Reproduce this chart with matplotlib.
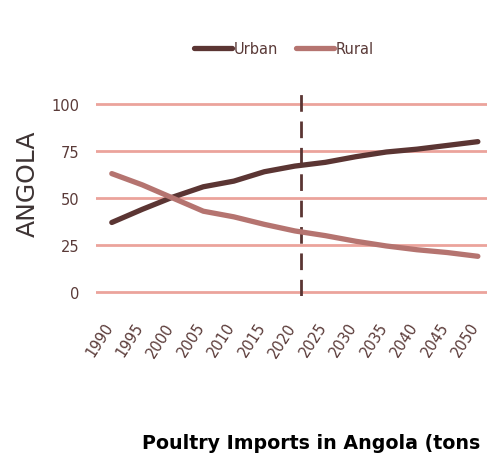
import matplotlib
matplotlib.use("Agg")
import matplotlib.pyplot as plt
from matplotlib.transforms import ScaledTranslation

years = [1990, 1995, 2000, 2005, 2010, 2015, 2020, 2025, 2030, 2035, 2040, 2045, 2050]
urban = [37, 44, 50.5, 56, 59, 64, 67, 69, 72, 74.5, 76, 78, 80]
rural = [63, 57, 50, 43, 40, 36, 32.5, 30, 27, 24.5, 22.5, 21, 19]
y_ticks = [0, 25, 50, 75, 100]
marker_year = 2021

text_color = "#5a3a38"
grid_color = "#eba39c"

fig = plt.figure(figsize=(4.87, 4.64), dpi=100)
ax = fig.add_axes([0.197, 0.36, 0.803, 0.45])

for v in y_ticks:
    ax.axhline(v, color=grid_color, lw=2.0, zorder=1)

ax.axvline(marker_year, color="#5b3533", lw=2.0, linestyle=(0, (6, 3.5)), zorder=2)

ax.plot(years, urban, color="#5b3533", lw=3.8, solid_capstyle="round",
        solid_joinstyle="round", label="Urban", zorder=3)
ax.plot(years, rural, color="#b57470", lw=3.8, solid_capstyle="round",
        solid_joinstyle="round", label="Rural", zorder=3)

ax.set_xlim(1987.4, 2051.5)
ax.set_ylim(-2.1, 109)
ax.set_yticks(y_ticks)
ax.set_xticks(years)
ax.set_xticklabels([str(y) for y in years], rotation=57, ha="right", va="top",
                   rotation_mode="anchor")
ax.tick_params(length=0, labelsize=10.5, labelcolor=text_color, pad=12)
ax.tick_params(axis="x", pad=17)
shift = ScaledTranslation(-6 / 72, 0, fig.dpi_scale_trans)
for lbl in ax.get_xticklabels():
    lbl.set_transform(lbl.get_transform() + shift)
for s in ax.spines.values():
    s.set_visible(False)

fig.text(0.057, 0.605, "ANGOLA", rotation=90, ha="center", va="center",
         fontsize=18, color="#3e3434")

fig.legend(loc="center", bbox_to_anchor=(0.583, 0.893), ncol=2, frameon=False,
           handlelength=2.6, handletextpad=0.15, columnspacing=1.2,
           labelcolor=text_color, fontsize=10.5)

fig.text(0.292, 0.045, "Poultry Imports in Angola (tons", fontsize=13.7,
         fontweight="bold", color="black", ha="left", va="center")

fig.savefig("out.png", dpi=100)
